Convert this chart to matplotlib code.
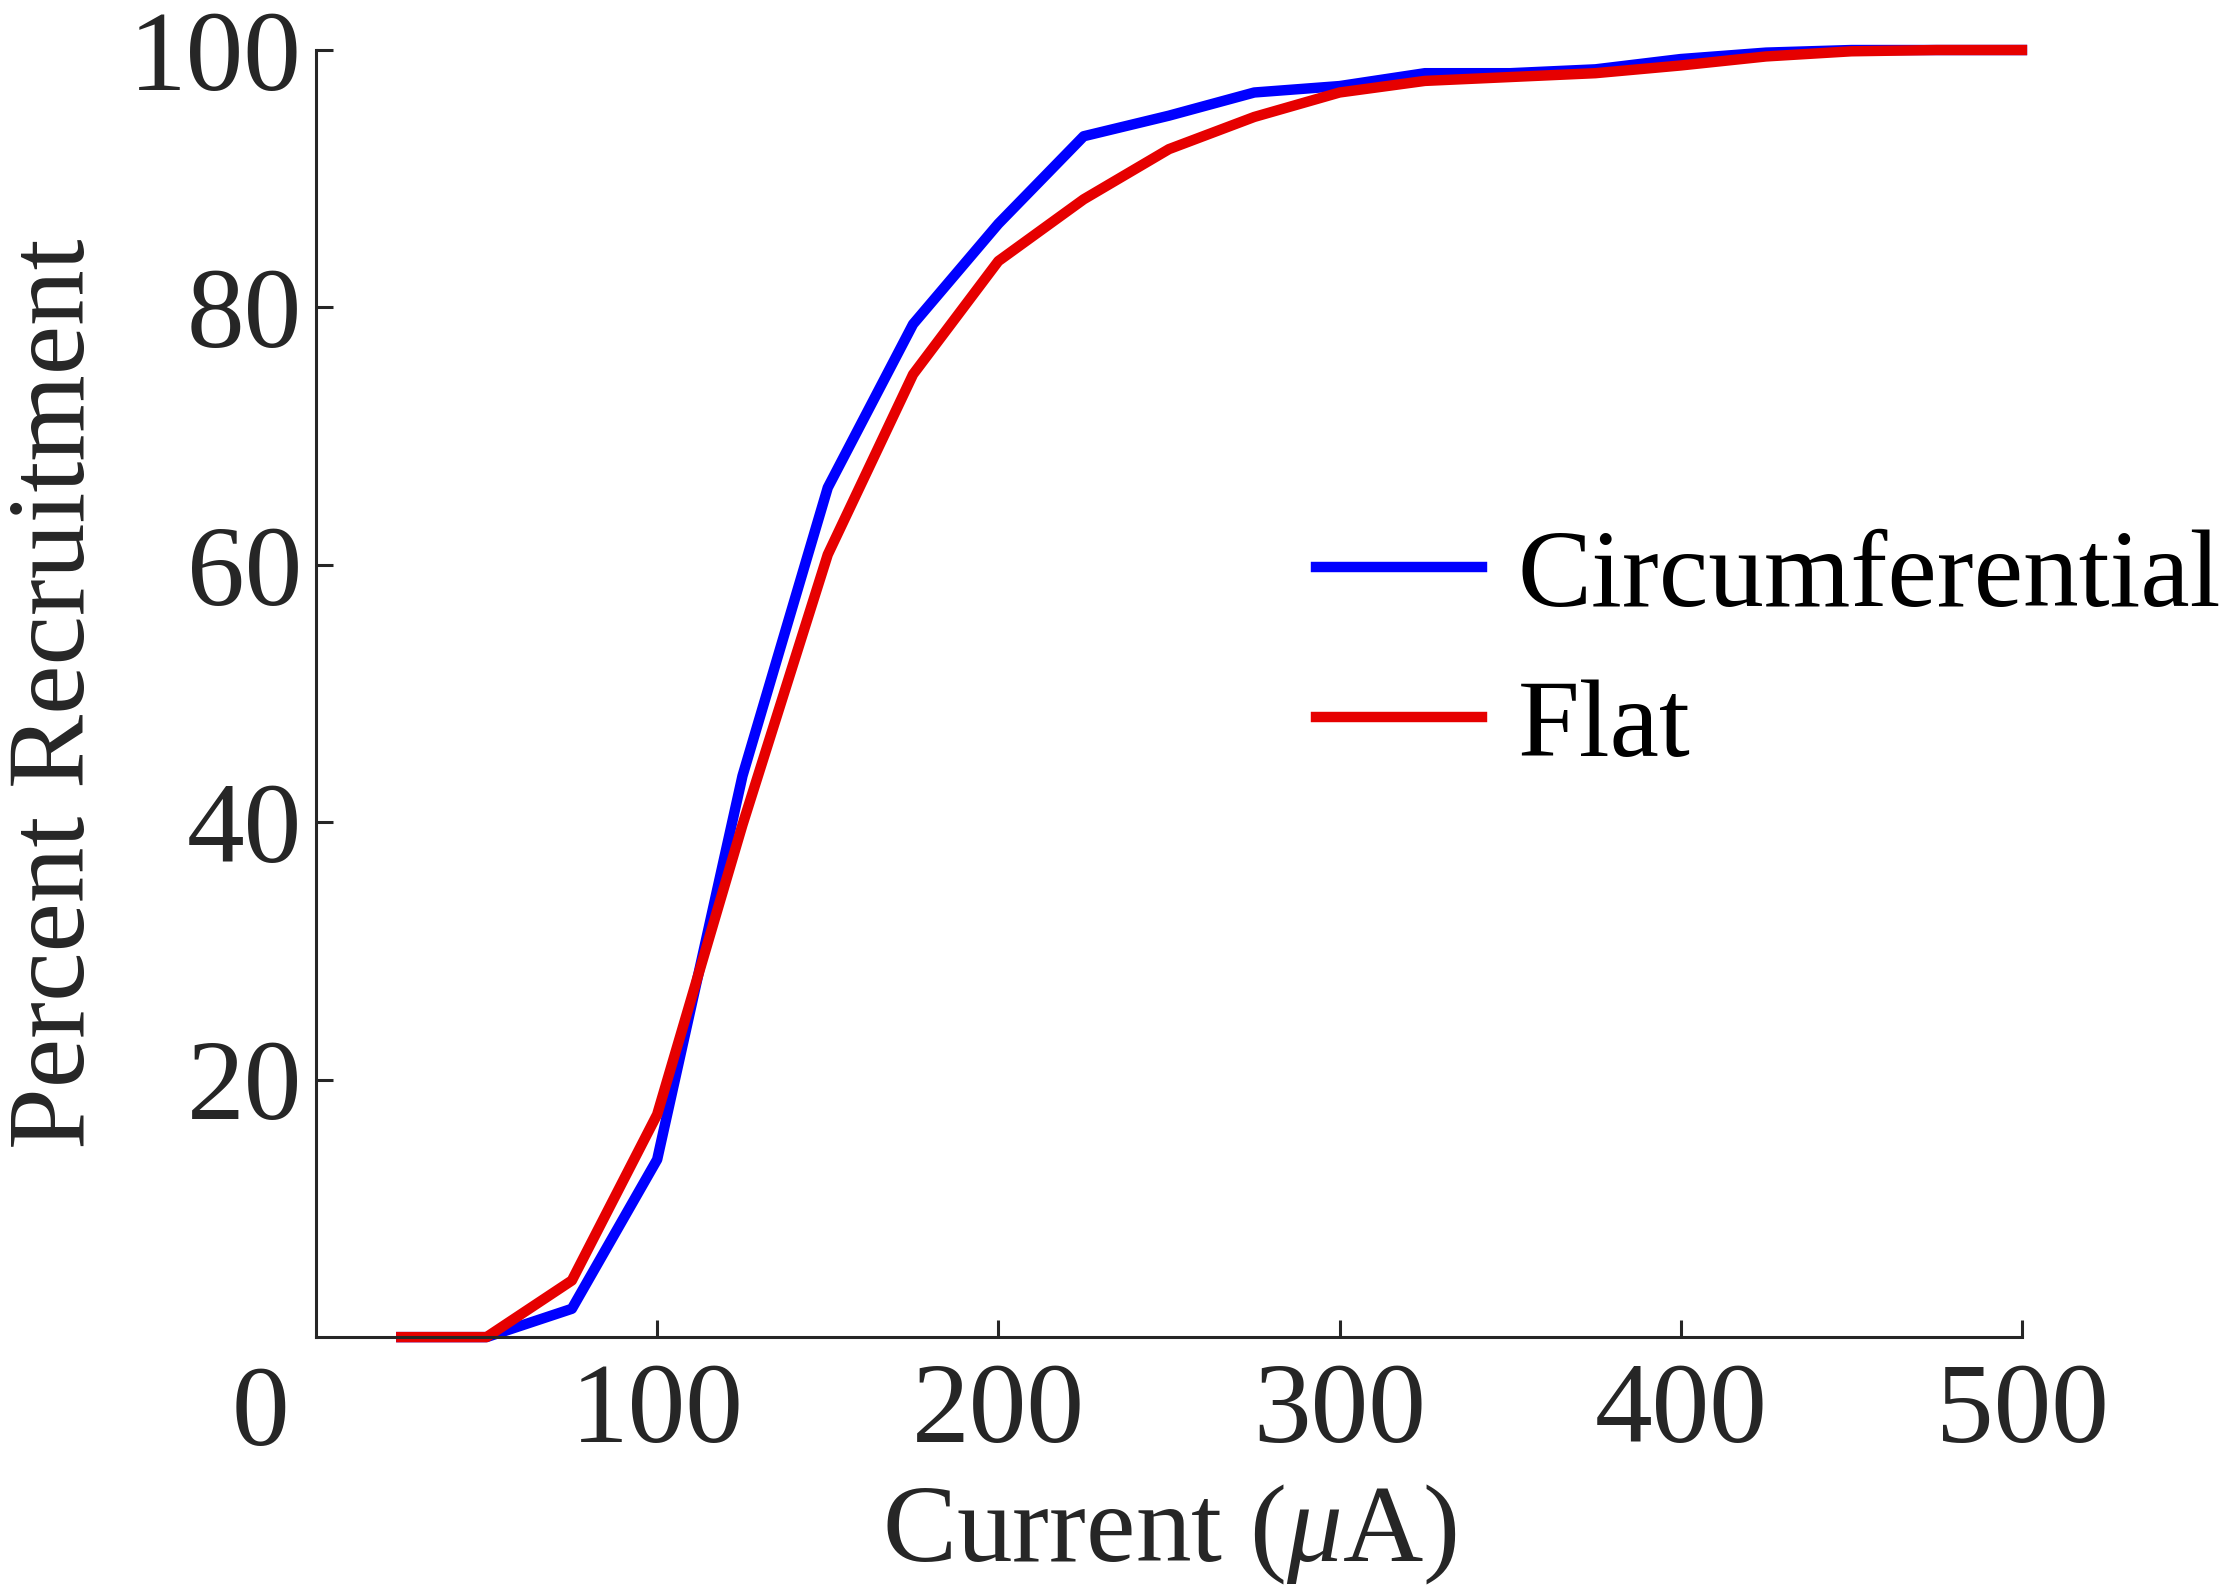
import matplotlib
matplotlib.use('Agg')
import matplotlib.pyplot as plt

# 数据
current = [25, 50, 75, 100, 125, 150, 175, 200, 225, 250, 275, 300, 325, 350, 375, 400, 425, 450, 475, 500]
circumferential = [0, 0, 2.2, 13.8, 43.6, 66.0, 78.7, 86.5, 93.3, 94.9, 96.7, 97.2, 98.2, 98.2, 98.5, 99.3, 99.8, 100, 100, 100]
flat = [0, 0, 4.4, 17.3, 39.8, 60.8, 74.8, 83.6, 88.4, 92.3, 94.8, 96.7, 97.6, 97.9, 98.2, 98.8, 99.5, 99.9, 100, 100]

xticks = [100, 200, 300, 400, 500]
yticks = [20, 40, 60, 80, 100]

plt.rcParams['font.family'] = ['Liberation Serif', 'DejaVu Serif']
plt.rcParams['mathtext.fontset'] = 'custom'
plt.rcParams['mathtext.rm'] = 'Liberation Serif'
plt.rcParams['mathtext.it'] = 'Liberation Serif:italic'

txt = '#262626'
fs = 80
tfs = 83

fig = plt.figure(figsize=(22.3, 15.88), dpi=100)
ax = fig.add_axes([0.1417, 0.158, 0.765, 0.8105])

ax.plot(current, circumferential, color=(0, 0, 1), lw=7.5, label='Circumferential', clip_on=False)
ax.plot(current, flat, color=(0.9, 0, 0), lw=7.5, label='Flat', clip_on=False)

ax.set_xlim(0, 500)
ax.set_ylim(0, 100)
ax.set_xticks(xticks)
ax.set_yticks(yticks)
ax.tick_params(direction='in', length=12, width=2.2, colors=txt, labelsize=tfs)
ax.tick_params(axis='x', pad=18)
ax.tick_params(axis='y', pad=10)
for s in ['top', 'right']:
    ax.spines[s].set_visible(False)
for s in ['left', 'bottom']:
    ax.spines[s].set_linewidth(2.2)
    ax.spines[s].set_color(txt)

# 左下角单独的 "0"
ax.text(-0.0325, -0.0222, '0', transform=ax.transAxes, ha='center', va='top',
        fontsize=tfs, color=txt)

ax.set_xlabel(r'Current ($\mu$A)', fontsize=fs, color=txt, labelpad=12)
ax.set_ylabel('Percent Recruitment', fontsize=fs, color=txt, labelpad=16)

ax.legend(loc='center left', bbox_to_anchor=(0.586, 0.531), frameon=False,
          fontsize=fs, handlelength=1.5, handletextpad=0.32, labelspacing=0.44,
          borderpad=0, borderaxespad=0)

fig.savefig('out.png', dpi=100)
